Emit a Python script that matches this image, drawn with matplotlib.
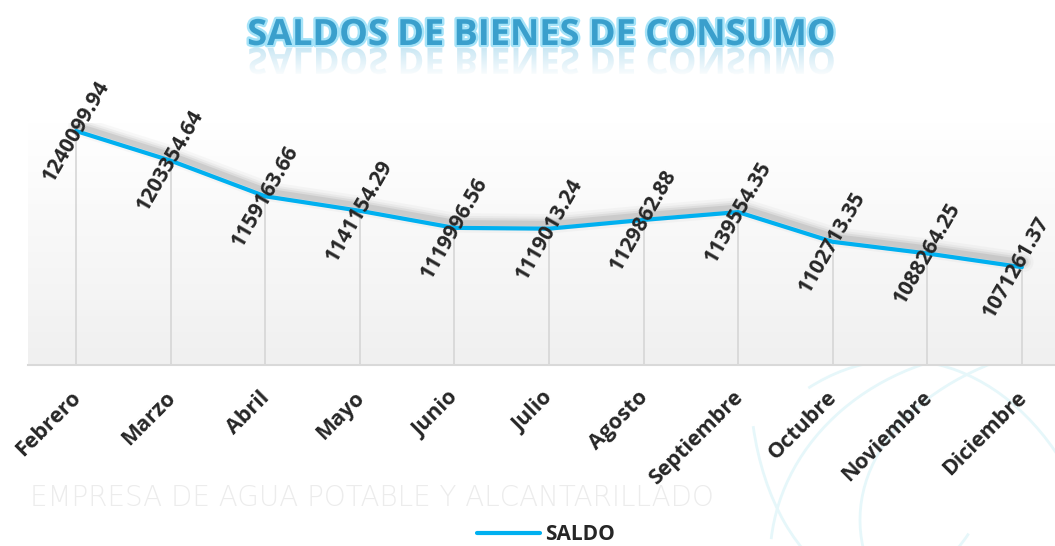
import numpy as np
import matplotlib
matplotlib.use("Agg")
import matplotlib.pyplot as plt
from matplotlib.textpath import TextPath
from matplotlib.patches import PathPatch, Arc
from matplotlib.font_manager import FontProperties
from matplotlib.transforms import Affine2D, offset_copy, ScaledTranslation
from matplotlib.colors import LinearSegmentedColormap
import matplotlib.patheffects as pe

# ---------------- data ----------------
months = ["Febrero", "Marzo", "Abril", "Mayo", "Junio", "Julio", "Agosto",
          "Septiembre", "Octubre", "Noviembre", "Diciembre"]
saldo = [1240099.94, 1203354.64, 1159163.66, 1141154.29, 1119996.56,
         1119013.24, 1129862.88, 1139554.35, 1102713.35, 1088264.25,
         1071261.37]
title = "SALDOS DE BIENES DE CONSUMO"
series_name = "SALDO"
watermark = "EMPRESA DE AGUA POTABLE Y ALCANTARILLADO"

W, H, DPI = 1055, 546, 100
FONT = "Open Sans"
LINE_C = "#00B0F0"
TXT_C = "#262626"

fig = plt.figure(figsize=(W / DPI, H / DPI), dpi=DPI)
fig.patch.set_facecolor("white")

# faint logo arcs (background decoration)
for (cx, cy, w_, h_, t1, t2) in [(1010, 560, 480, 420, 95, 175),
                                 (900, 640, 420, 560, 40, 110),
                                 (1120, 520, 520, 360, 120, 190),
                                 (880, 380, 260, 420, 200, 300)]:
    arc = Arc((cx / DPI, (H - cy) / DPI), w_ / DPI, h_ / DPI, theta1=t1, theta2=t2,
              transform=fig.dpi_scale_trans, color="#e6f7fa", lw=2, zorder=0)
    fig.add_artist(arc)

# watermark
fig.text(30 / W, 1 - 498 / H, watermark, ha="left", va="center",
         fontsize=20, family="DejaVu Sans", fontweight="light",
         color="#ececec", zorder=0)

# plot area in pixels: left 28, right 1055, top 123, bottom 365
L, R, T, B = 28, 1055, 123, 365
ax = fig.add_axes([L / W, 1 - B / H, (R - L) / W, (B - T) / H])

x = np.arange(len(months))

# gradient background
grad = np.linspace(1.0, 0.0, 256).reshape(-1, 1)
cm = LinearSegmentedColormap.from_list("bg", ["#f0f0f0", "#ffffff"])
ax.imshow(grad, extent=[0, 1, 0, 1], transform=ax.transAxes, aspect="auto",
          cmap=cm, zorder=0, origin="upper")

# drop lines
ax.vlines(x, 950000, saldo, color="#d6d6d6", lw=1.2, zorder=1)

# shadow
for lw, a in [(14, 0.05), (10, 0.08), (7, 0.12), (4, 0.18)]:
    tr = offset_copy(ax.transData, fig=fig, x=2, y=5, units="dots")
    ax.plot(x, saldo, color="#808080", lw=lw, alpha=a, transform=tr,
            solid_capstyle="round", solid_joinstyle="round", zorder=2)

line, = ax.plot(x, saldo, color=LINE_C, lw=3.0, zorder=3,
                solid_capstyle="round", solid_joinstyle="round",
                label=series_name)

# data labels
n = len(saldo)
for i, (xi, v) in enumerate(zip(x, saldo)):
    dx = -4 if i == n - 1 else 0
    ax.annotate(f"{v:.2f}", (xi, v), xytext=(dx, 0), textcoords="offset points",
                rotation=60, ha="center", va="center",
                rotation_mode="anchor", fontsize=15, fontweight="bold",
                family=FONT, color=TXT_C, zorder=4, annotation_clip=False)

ax.set_xlim(-0.507, 10.35)
ax.set_ylim(950000, 1250000)
ax.set_yticks([])
ax.set_xticks(x)
ax.set_xticklabels(months, rotation=45, ha="right", rotation_mode="anchor",
                   fontsize=15.5, fontweight="bold", family=FONT, color=TXT_C)
ax.tick_params(axis="x", length=0, pad=16)
shift = ScaledTranslation(-6 / DPI, 0, fig.dpi_scale_trans)
for lab in ax.get_xticklabels():
    lab.set_transform(lab.get_transform() + shift)
for s in ["left", "right", "top"]:
    ax.spines[s].set_visible(False)
ax.spines["bottom"].set_color("#d9d9d9")
ax.spines["bottom"].set_linewidth(1.5)

# title
tfs = 26
ty = 45  # baseline px from top
fig.text(541.5 / W, 1 - ty / H, title, ha="center", va="baseline",
         fontsize=tfs, fontweight="bold", family=FONT, color="#3a9fcc",
         path_effects=[pe.Stroke(linewidth=3.5, foreground="#8fdcf7", alpha=0.8),
                       pe.Normal()])

# reflection of title
fp = FontProperties(family=FONT, weight="bold", size=tfs)
tp = TextPath((0, 0), title, prop=fp)
ext = tp.get_extents()
wid_in = ext.width / 72
x0_in = 541.5 / DPI - wid_in / 2 - ext.x0 / 72
y0_in = (H - 48) / DPI
trf = Affine2D().scale(1 / 72, -1 / 72).translate(x0_in, y0_in) + fig.dpi_scale_trans
fig.add_artist(PathPatch(tp, transform=trf, facecolor="#86c9e6", edgecolor="none",
                         alpha=0.55, zorder=1))
ov = fig.add_axes([0, 1 - 78 / H, 1, (78 - 47) / H], zorder=5)
ov.patch.set_alpha(0)
ov.axis("off")
fade = np.zeros((64, 2, 4))
fade[..., :3] = 1.0
fade[..., 3] = np.linspace(0.2, 1.0, 64)[:, None]
ov.imshow(fade, extent=[0, 1, 0, 1], aspect="auto", origin="upper")
ov.set_xlim(0, 1)
ov.set_ylim(0, 1)

# legend
fig.legend(handles=[line], loc="center", bbox_to_anchor=(546 / W, 11 / H),
           frameon=False, handlelength=3.0,
           prop=FontProperties(family=FONT, weight="bold", size=15),
           labelcolor=TXT_C, handletextpad=0.25)

fig.savefig("out.png", dpi=DPI)
